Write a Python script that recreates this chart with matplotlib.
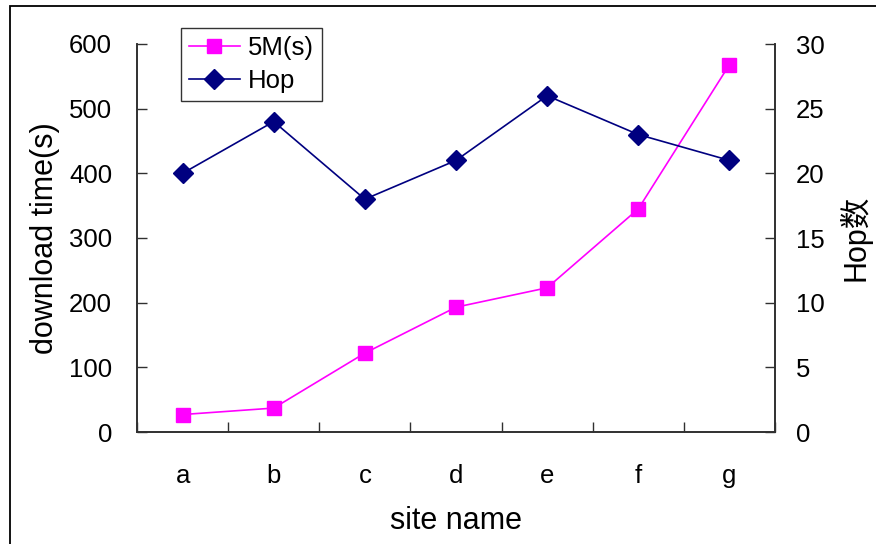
import matplotlib
matplotlib.use("Agg")
import matplotlib.pyplot as plt
from matplotlib.patches import Rectangle
import numpy as np

# =====================================================================
# Data
# =====================================================================
SITES = ["a", "b", "c", "d", "e", "f", "g"]
DOWNLOAD_5M = [27, 37, 122, 193, 223, 345, 568]  # download time (s), left axis
HOP_COUNT = [20, 24, 18, 21, 26, 23, 21]  # hop count, right axis

LEFT_TICKS = [0, 100, 200, 300, 400, 500, 600]
RIGHT_TICKS = [0, 5, 10, 15, 20, 25, 30]

plt.rcParams["font.family"] = ["Liberation Sans", "Noto Sans CJK SC", "DejaVu Sans"]

AXIS_COLOR = "#303030"
TICK_FS = 18.5
LABEL_FS = 22

fig = plt.figure(figsize=(8.76, 5.44), dpi=100)
ax = fig.add_axes([137 / 876, 1 - 432 / 544, 638 / 876, 388 / 544])
ax2 = ax.twinx()

x = np.arange(len(SITES))

(l1,) = ax.plot(
    x, DOWNLOAD_5M, color="#FF00FF", marker="s", markersize=10.5,
    linewidth=1.2, label="5M(s)", clip_on=False, zorder=3,
)
(l2,) = ax2.plot(
    x, HOP_COUNT, color="#000080", marker="D", markersize=10,
    linewidth=1.2, label="Hop", clip_on=False, zorder=3,
)

ax.set_xlim(-0.5, len(SITES) - 0.5)
ax.set_ylim(0, 600)
ax2.set_ylim(0, 30)

ax.set_yticks(LEFT_TICKS)
ax2.set_yticks(RIGHT_TICKS)

# categories at centres, tick marks on boundaries (Excel style)
ax.set_xticks(x)
ax.set_xticklabels(SITES)
ax.set_xticks(np.arange(-0.5, len(SITES), 1.0), minor=True)
ax.tick_params(axis="x", which="major", length=0, pad=23, labelsize=TICK_FS)
ax.tick_params(axis="x", which="minor", direction="in", length=7,
               width=1, color=AXIS_COLOR)
ax.tick_params(axis="y", direction="in", length=7, width=1,
               color=AXIS_COLOR, pad=18, labelsize=TICK_FS)
ax2.tick_params(axis="y", direction="in", length=7, width=1,
                color=AXIS_COLOR, pad=15, labelsize=TICK_FS)

for a in (ax, ax2):
    a.spines["top"].set_visible(False)
    for s in ("left", "right", "bottom"):
        a.spines[s].set_color(AXIS_COLOR)
        a.spines[s].set_linewidth(1.2)
ax.patch.set_visible(False)

ax.set_xlabel("site name", fontsize=LABEL_FS, labelpad=13)
ax.set_ylabel("download time(s)", fontsize=LABEL_FS, labelpad=6.5)
ax2.set_ylabel("Hop数", fontsize=LABEL_FS, labelpad=10)

leg = ax2.legend(
    handles=[l1, l2], loc="upper left", bbox_to_anchor=(0.069, 1.041),
    fontsize=TICK_FS, frameon=True, fancybox=False, edgecolor="black",
    handlelength=2.0, handletextpad=0.3, borderpad=0.3, labelspacing=0.35,
    borderaxespad=0,
)
leg.get_frame().set_linewidth(1.0)

# outer chart border (its right and bottom sides fall outside the picture)
fig.patches.append(Rectangle((9.5 / 876, -0.1), 1.1, 1 - 6.5 / 544 + 0.1,
                             transform=fig.transFigure, fill=False,
                             edgecolor="black", linewidth=1.3))

fig.savefig("out.png", dpi=100)
